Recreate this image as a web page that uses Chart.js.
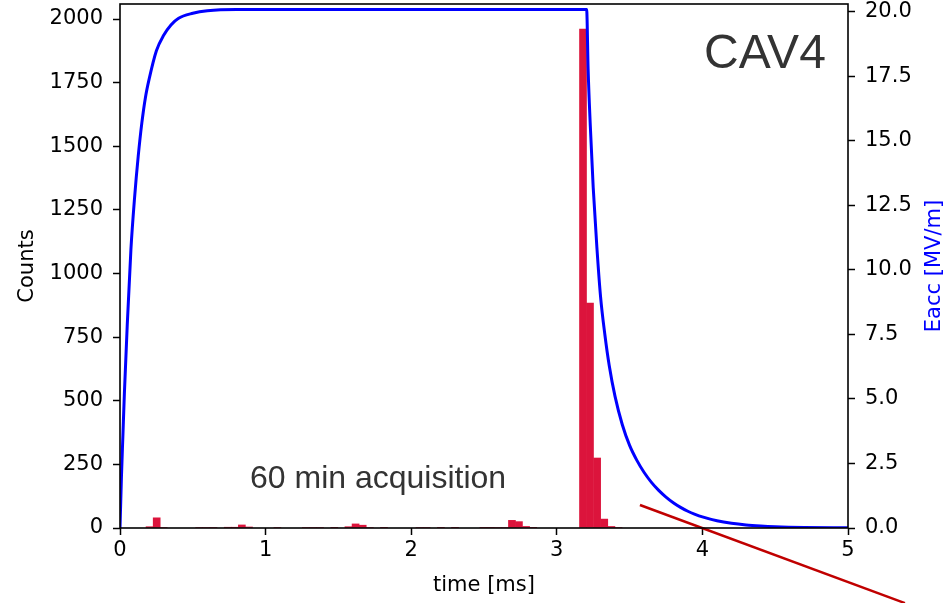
<!DOCTYPE html>
<html>
<head>
<meta charset="utf-8">
<script src="https://cdn.jsdelivr.net/npm/chart.js@4.4.1/dist/chart.umd.min.js"></script>
<style>
  body { margin: 0; background: #fff; }
  #wrap { width: 946px; height: 603px; }
</style>
</head>
<body>
<div id="wrap"><canvas id="cavChart" width="946" height="603"></canvas></div>
<script>
// histogram bins (centre in ms) and counts
const binTimes = [0.203, 0.252, 0.300, 0.544, 0.593, 0.642, 0.740, 0.788, 0.837, 0.886,
    1.081, 1.276, 1.325, 1.374, 1.472, 1.569, 1.618, 1.667, 1.716, 1.813,
    2.057, 2.106, 2.204, 2.301, 2.496, 2.545, 2.594, 2.643, 2.692, 2.740, 2.789, 2.838,
    3.180, 3.228, 3.277, 3.326, 3.375, 3.424];
const binCounts = [5, 40, 2, 2, 2, 2, 3, 3, 12, 4,
    2, 2, 2, 2, 1, 5, 16, 11, 2, 1,
    2, 2, 1, 1, 1, 1, 2, 2, 30, 25, 6, 1,
    1960, 884, 275, 35, 6, 2];

// accelerating field trace
const fieldTimes = [0, 0.01, 0.02, 0.03, 0.05, 0.075, 0.1, 0.125, 0.15, 0.175, 0.2, 0.25, 0.3, 0.35, 0.4, 0.5, 0.6, 0.8,
    3.205, 3.215, 3.23, 3.25, 3.275, 3.30, 3.33, 3.36, 3.40, 3.45, 3.50, 3.55, 3.60, 3.65, 3.70, 3.75,
    3.80, 3.85, 3.90, 3.95, 4.00, 4.10, 4.20, 4.30, 4.40, 4.50, 4.70, 5.00];
const fieldEacc = [0, 2.0, 3.6, 5.2, 7.9, 10.8, 12.8, 14.4, 15.7, 16.7, 17.4, 18.5, 19.1, 19.5, 19.75, 19.95, 20.05, 20.1,
    20.1, 17.8, 15.6, 13.2, 10.9, 9.0, 7.5, 6.3, 5.1, 4.0, 3.2, 2.62, 2.15, 1.77, 1.46, 1.2,
    0.98, 0.8, 0.65, 0.53, 0.43, 0.28, 0.18, 0.115, 0.075, 0.048, 0.02, 0.006];

const countTicks = [0, 250, 500, 750, 1000, 1250, 1500, 1750, 2000];
const eaccTicks = [0, 2.5, 5, 7.5, 10, 12.5, 15, 17.5, 20];
const timeTicks = [0, 1, 2, 3, 4, 5];

// red pointer line, in data units (time, Eacc)
const pointerFrom = [3.571, 0.89];
const pointerTo = [5.391, -2.91];

const tickFont = { family: 'DejaVu Sans', size: 21, lineHeight: 1 };

const framePlugin = {
    id: 'frame',
    afterDraw(chart) {
        const ctx = chart.ctx;
        const a = chart.chartArea;
        const xs = chart.scales.x, ys = chart.scales.y1;
        ctx.save();
        // pointer line
        ctx.strokeStyle = '#c00000';
        ctx.lineWidth = 2.5;
        ctx.beginPath();
        ctx.moveTo(xs.getPixelForValue(pointerFrom[0]), ys.getPixelForValue(pointerFrom[1]));
        ctx.lineTo(xs.getPixelForValue(pointerTo[0]), ys.getPixelForValue(pointerTo[1]));
        ctx.stroke();
        // axes box
        ctx.strokeStyle = '#000';
        ctx.lineWidth = 1.6;
        ctx.strokeRect(a.left, a.top, a.right - a.left, a.bottom - a.top);
        // right axis title, reading upwards like the left one
        ctx.fillStyle = '#0000ff';
        ctx.font = '21px "DejaVu Sans"';
        ctx.textAlign = 'center';
        ctx.textBaseline = 'middle';
        ctx.translate(935, (a.top + a.bottom) / 2);
        ctx.rotate(-Math.PI / 2);
        ctx.fillText('Eacc [MV/m]', 0, 0);
        ctx.setTransform(1, 0, 0, 1, 0, 0);
        // labels
        ctx.fillStyle = '#333';
        ctx.textAlign = 'left';
        ctx.textBaseline = 'alphabetic';
        ctx.font = '48px "Liberation Sans"';
        ctx.fillText('CAV4', 704, 68);
        ctx.font = '32px "Liberation Sans"';
        ctx.fillText('60 min acquisition', 250, 488);
        ctx.restore();
    }
};

const noPadY = s => { s.paddingTop = 0; s.paddingBottom = 0; };

const ctx = document.getElementById('cavChart').getContext('2d');
const cavChart = new Chart(ctx, {
    type: 'bar',
    data: {
        datasets: [{
            type: 'line',
            label: 'Eacc',
            data: fieldTimes.map((t, i) => ({ x: t, y: fieldEacc[i] })),
            borderColor: '#0000ff',
            borderWidth: 3,
            pointRadius: 0,
            cubicInterpolationMode: 'monotone',
            yAxisID: 'y1',
            order: 0
        }, {
            type: 'bar',
            label: 'Counts',
            data: binTimes.map((t, i) => ({ x: t, y: binCounts[i] })),
            backgroundColor: '#dc143c',
            borderWidth: 0,
            barPercentage: 1,
            categoryPercentage: 1,
            yAxisID: 'y',
            order: 1
        }]
    },
    options: {
        responsive: false,
        animation: false,
        layout: { padding: { top: 4, left: 0, right: 0, bottom: 0 } },
        plugins: { legend: { display: false }, tooltip: { enabled: false } },
        scales: {
            x: {
                type: 'linear',
                min: 0, max: 5,
                offset: false,
                afterFit: s => { s.height = 75; s.paddingLeft = 0; s.paddingRight = 0; },
                afterBuildTicks: s => { s.ticks = timeTicks.map(v => ({ value: v })); },
                ticks: { color: '#000', font: tickFont, padding: 5, maxRotation: 0, callback: v => String(v) },
                grid: { display: true, drawOnChartArea: false, offset: false, tickLength: 7, tickColor: '#000', tickWidth: 1.5 },
                border: { display: false },
                title: { display: true, text: 'time [ms]', color: '#000', font: tickFont, padding: { top: 0, bottom: 7 } }
            },
            y: {
                position: 'left',
                min: 0, max: 2059,
                afterFit: s => { s.width = 120; noPadY(s); },
                afterBuildTicks: s => { s.ticks = countTicks.map(v => ({ value: v })); },
                ticks: { color: '#000', font: tickFont, padding: 10, callback: v => String(v) },
                grid: { display: true, drawOnChartArea: false, tickLength: 7, tickColor: '#000', tickWidth: 1.5 },
                border: { display: false },
                title: { display: true, text: 'Counts', color: '#000', font: tickFont, padding: { top: 17, bottom: 0 } }
            },
            y1: {
                position: 'right',
                min: 0, max: 20.31,
                afterFit: s => { s.width = 98; noPadY(s); },
                afterBuildTicks: s => { s.ticks = eaccTicks.map(v => ({ value: v })); },
                ticks: { color: '#000', font: tickFont, padding: 10, callback: v => v.toFixed(1) },
                grid: { display: true, drawOnChartArea: false, tickLength: 7, tickColor: '#000', tickWidth: 1.5 },
                border: { display: false },
                title: { display: false }
            }
        }
    },
    plugins: [framePlugin]
});
</script>
</body>
</html>
